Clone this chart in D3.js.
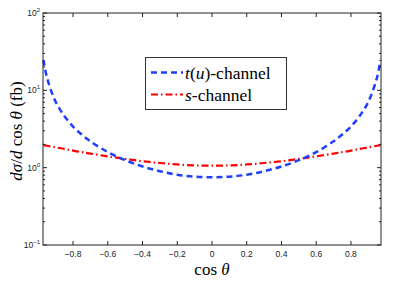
<!DOCTYPE html>
<html><head><meta charset="utf-8">
<script src="https://cdn.jsdelivr.net/npm/d3@7"></script>
<style>
body{margin:0;background:#fff;}
svg{display:block;}
.serif{font-family:"Liberation Serif","DejaVu Serif","Times New Roman",serif;}
.sans{font-family:"Liberation Sans",Arial,sans-serif;}
</style></head><body>
<svg id="c" width="415" height="282"></svg>
<script>
const cosTheta = [-0.97,-0.95,-0.9,-0.85,-0.8,-0.75,-0.7,-0.6,-0.5,-0.4,-0.3,-0.2,-0.1,0,0.1,0.2,0.3,0.4,0.5,0.6,0.7,0.75,0.8,0.85,0.9,0.95,0.97];
const tChannel = [24.7,14.6,7.1,4.66,3.4,2.68,2.19,1.59,1.25,1.036,0.90,0.81,0.765,0.75,0.765,0.81,0.90,1.036,1.25,1.59,2.19,2.68,3.4,4.66,7.1,14.6,24.7];
const sChannel = [1.96,1.92,1.83,1.75,1.66,1.59,1.52,1.40,1.30,1.21,1.15,1.10,1.07,1.06,1.07,1.10,1.15,1.21,1.30,1.40,1.52,1.59,1.66,1.75,1.83,1.92,1.96];
const xTicks = [-0.8,-0.6,-0.4,-0.2,0,0.2,0.4,0.6,0.8];
const yDecades = [-1,0,1,2];
const legendLabels = ["t(u)-channel","s-channel"];

const svg = d3.select("#c");
const L=43,R=381,T=13,B=245;
const x = d3.scaleLinear().domain([-0.973,0.973]).range([L,R]);
const y = d3.scaleLog().domain([0.1,100]).range([B,T]);
const axc="#222";

const line = (vals)=>d3.line().x((d,i)=>x(cosTheta[i])).y(d=>y(d)).curve(d3.curveCatmullRom)(vals);
svg.append("path").attr("d",line(sChannel)).attr("fill","none").attr("stroke","#ff0000").attr("stroke-width",2.2).attr("stroke-dasharray","7,3,1.5,3");
svg.append("path").attr("d",line(tChannel)).attr("fill","none").attr("stroke","#1f3fff").attr("stroke-width",2.5).attr("stroke-dasharray","6,4");

svg.append("rect").attr("x",L).attr("y",T).attr("width",R-L).attr("height",B-T).attr("fill","none").attr("stroke",axc).attr("stroke-width",1);

xTicks.forEach(v=>{
  const px=x(v);
  svg.append("line").attr("x1",px).attr("x2",px).attr("y1",B).attr("y2",B-4).attr("stroke",axc);
  svg.append("line").attr("x1",px).attr("x2",px).attr("y1",T).attr("y2",T+4).attr("stroke",axc);
  svg.append("text").attr("class","sans").attr("x",px).attr("y",B+12).attr("text-anchor","middle")
    .attr("font-size",8.5).attr("fill","#222")
    .text(v===0?"0":(v<0?"\u2212":"")+Math.abs(v).toFixed(1));
});
yDecades.forEach(k=>{
  const py=y(Math.pow(10,k));
  svg.append("line").attr("x1",L).attr("x2",L+4).attr("y1",py).attr("y2",py).attr("stroke",axc);
  svg.append("line").attr("x1",R).attr("x2",R-4).attr("y1",py).attr("y2",py).attr("stroke",axc);
  const t=svg.append("text").attr("class","sans").attr("x",40).attr("y",py+3).attr("text-anchor","end")
    .attr("font-size",8.5).attr("fill","#222");
  t.append("tspan").text("10");
  t.append("tspan").attr("dy",-4).attr("font-size",6).text(k<0?"\u2212"+(-k):String(k));
  if(k<2){
    for(let m=2;m<=9;m++){
      const pm=y(m*Math.pow(10,k));
      svg.append("line").attr("x1",L).attr("x2",L+2).attr("y1",pm).attr("y2",pm).attr("stroke",axc);
      svg.append("line").attr("x1",R).attr("x2",R-2).attr("y1",pm).attr("y2",pm).attr("stroke",axc);
    }
  }
});

const xl=svg.append("text").attr("class","serif").attr("x",212).attr("y",275).attr("text-anchor","middle").attr("font-size",17).attr("fill","#000");
xl.append("tspan").text("cos ");
xl.append("tspan").attr("font-style","italic").text("θ");

const yl=svg.append("text").attr("class","serif").attr("transform","translate(22,131) rotate(-90)").attr("text-anchor","middle").attr("font-size",17).attr("fill","#000");
yl.append("tspan").attr("font-style","italic").text("dσ");
yl.append("tspan").text("/");
yl.append("tspan").attr("font-style","italic").text("d");
yl.append("tspan").text(" cos ");
yl.append("tspan").attr("font-style","italic").text("θ");
yl.append("tspan").text(" (fb)");

svg.append("rect").attr("x",145.5).attr("y",57.5).attr("width",141).attr("height",52).attr("fill","#fff").attr("stroke","#333").attr("stroke-width",1);
svg.append("line").attr("x1",151).attr("x2",183).attr("y1",72.5).attr("y2",72.5).attr("stroke","#1f3fff").attr("stroke-width",2.5).attr("stroke-dasharray","6,4");
svg.append("line").attr("x1",151).attr("x2",183).attr("y1",94.5).attr("y2",94.5).attr("stroke","#ff0000").attr("stroke-width",2.2).attr("stroke-dasharray","7,3,1.5,3");
const l1=svg.append("text").attr("class","serif").attr("x",185).attr("y",78.5).attr("font-size",17.5).attr("fill","#000");
l1.append("tspan").attr("font-style","italic").text("t");
l1.append("tspan").text("(");
l1.append("tspan").attr("font-style","italic").text("u");
l1.append("tspan").text(")-channel");
const l2=svg.append("text").attr("class","serif").attr("x",185).attr("y",100.5).attr("font-size",17.5).attr("fill","#000");
l2.append("tspan").attr("font-style","italic").text("s");
l2.append("tspan").text("-channel");
</script>
</body></html>
